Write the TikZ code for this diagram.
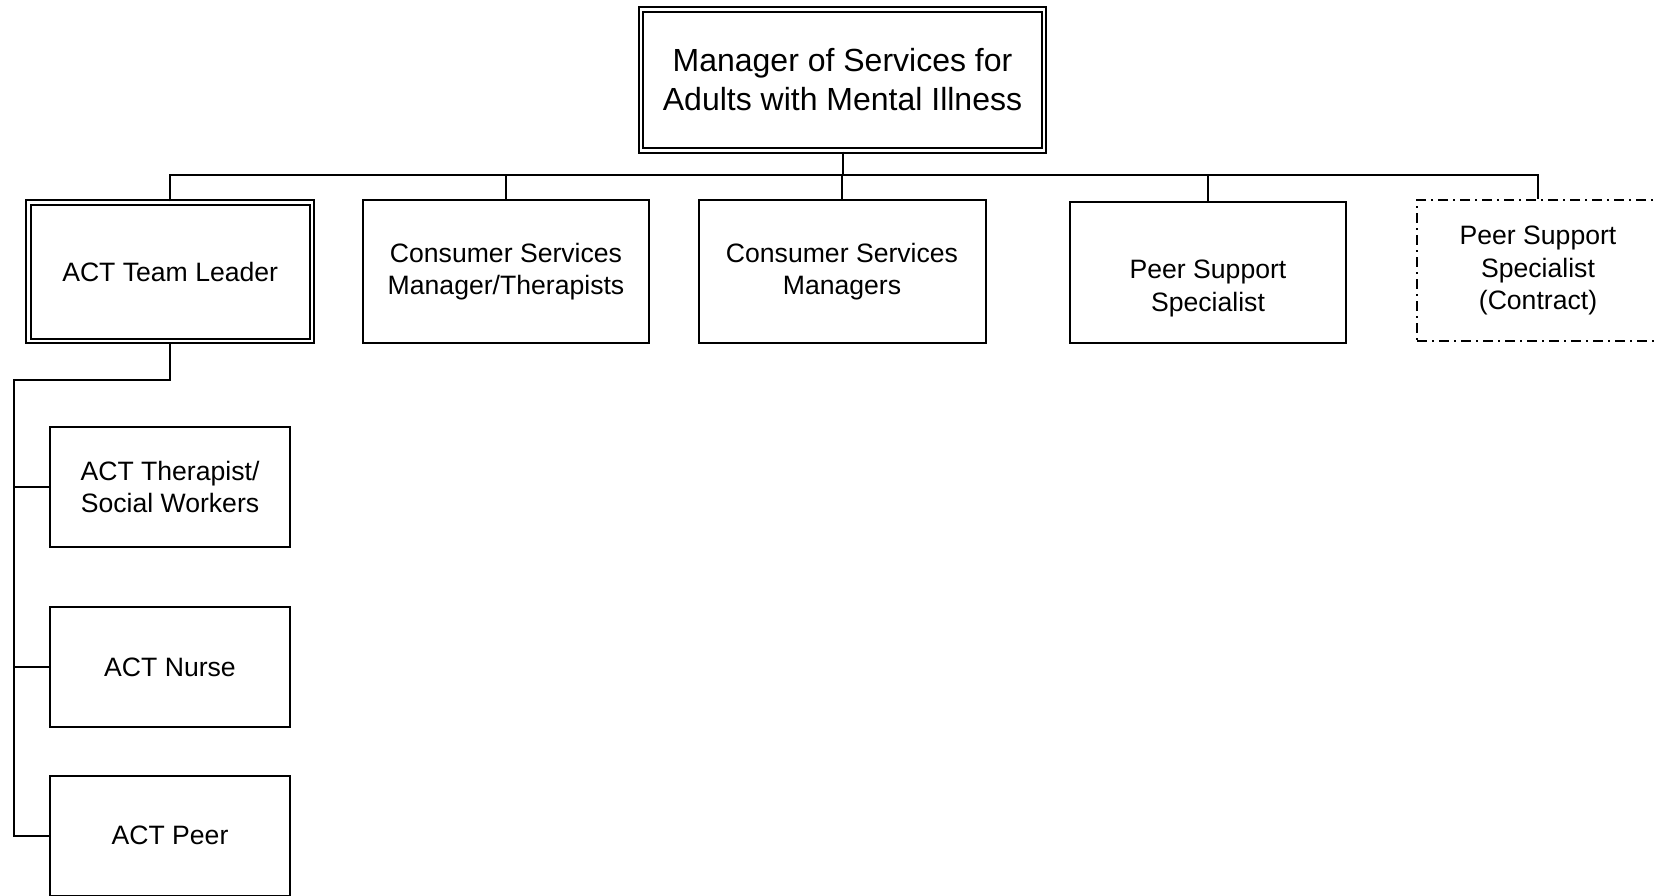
\documentclass[tikz,border=0pt]{standalone}
\usepackage{fontspec}
\setmainfont{Liberation Sans}
\begin{document}
\begin{tikzpicture}[x=1pt,y=-1pt,
  txt/.style={align=center, inner sep=0pt, font=\fontsize{26.6}{32.7}\selectfont},
  box/.style={draw=black, line width=2pt, txt},
  dbox/.style={box, double=white, double distance=2.7pt},
  dashbox/.style={box, line width=1.7pt, dash pattern=on 10pt off 5pt on 2pt off 5pt},
  conn/.style={draw=black, line width=2pt}]
\useasboundingbox[fill=white] (0,0) rectangle (1654,895);
\node[dbox, minimum width=403pt, minimum height=141pt,
  font=\fontsize{32}{39}\selectfont] (top) at (842.5,80)
  {Manager of Services for\\Adults with Mental Illness};
\node[dbox, minimum width=283.7pt, minimum height=138.7pt] (tl) at (170.2,271.7) {ACT Team Leader};
\node[box, minimum width=286pt, minimum height=142.5pt] (cmt) at (506,271.7) {Consumer Services\\Manager/Therapists};
\node[box, minimum width=287pt, minimum height=142.5pt] (cm) at (842,271.7) {Consumer Services\\Managers};
\node[box, minimum width=275.7pt, minimum height=141pt] (pss) at (1208,272.8) {};
\node[txt] (psst) at ([yshift=-16pt]pss.center) {Peer Support\\Specialist};
\node[dashbox, minimum width=242pt, minimum height=141pt] (con) at (1538,270.5) {Peer Support\\Specialist\\(Contract)};
\node[box, minimum width=240pt, minimum height=120pt] (ther) at (170,487) {ACT Therapist/\\Social Workers};
\node[box, minimum width=240pt, minimum height=120pt] (nurse) at (170,667) {ACT Nurse};
\node[box, minimum width=240pt, minimum height=120pt] (peer) at (170,835.7) {ACT Peer};
\coordinate (bus) at (842.5,174.5);
\coordinate (j) at (14,380);
\draw[conn] (top.south) -- (bus);
\draw[conn] (tl.north) |- (bus) -| (con.north);
\draw[conn] (cmt.north) -- (cmt.north |- bus);
\draw[conn] (cm.north) -- (cm.north |- bus);
\draw[conn] (pss.north) -- (pss.north |- bus);
\draw[conn] (tl.south) |- (j) |- (peer.west);
\draw[conn] (j) |- (ther.west);
\draw[conn] (j) |- (nurse.west);
\end{tikzpicture}
\end{document}
